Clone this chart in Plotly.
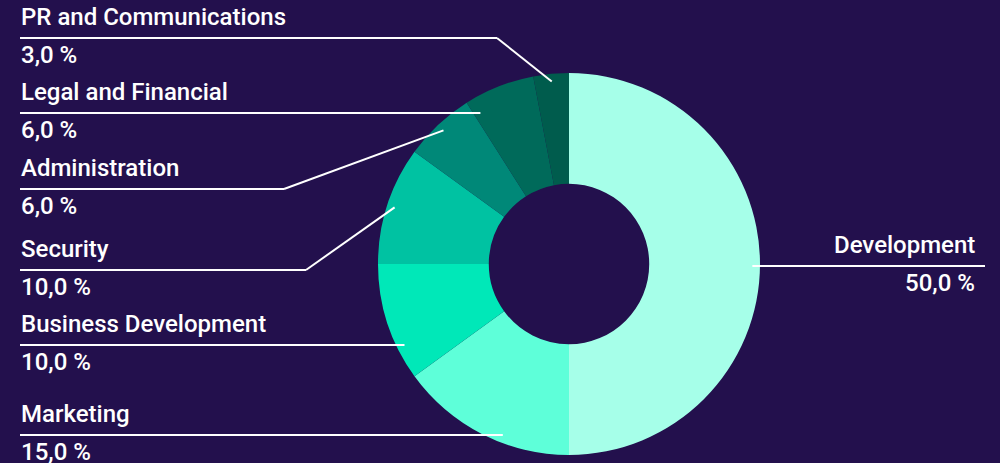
import math
import plotly.graph_objects as go

# ---- data ----
categories = ["Development", "Marketing", "Business Development", "Security",
              "Administration", "Legal and Financial", "PR and Communications"]
values = [50, 15, 10, 10, 6, 6, 3]
colors = ["#a6ffe9", "#5effd9", "#00e8b8", "#00c2a2", "#008878", "#006a5a", "#005c4d"]

# ---- layout (pixels) ----
W, H = 1000, 463
BG = "#23104d"
CX, CY, R = 569, 264, 191
HOLE = 0.42
ANCHOR_R = 0.96 * R
label_line_y = [266, 435, 345, 270, 189, 113, 38]
label_bend_x = [None, None, None, 306, 284, None, 497]
LEFT_X, RIGHT_X = 20, 985
FONT = "Roboto"
FS = 24


def px(x):
    return x / W


def py(y):
    return 1 - y / H


fig = go.Figure(go.Pie(
    labels=categories, values=values, sort=False, direction="clockwise",
    rotation=0, hole=HOLE, textinfo="none", showlegend=False,
    marker=dict(colors=colors, line=dict(width=0)),
    domain=dict(x=[px(CX - R), px(CX + R)], y=[py(CY + R), py(CY - R)]),
))

total = sum(values)
shapes, annotations = [], []
start = 0.0
for name, v, ly, bx in zip(categories, values, label_line_y, label_bend_x):
    span = 360.0 * v / total
    a0, a1 = start, start + span
    mid = (a0 + a1) / 2
    start = a1
    right = math.sin(math.radians(mid)) > 0
    dy = ly - CY
    if bx is None and abs(dy) < ANCHOR_R:
        dx = math.sqrt(ANCHOR_R ** 2 - dy ** 2) * (1 if right else -1)
        ang = math.degrees(math.atan2(dx, -dy)) % 360
        ang = min(max(ang, a0 + 2), a1 - 2)
        c = math.cos(math.radians(ang))
        t = -dy / c
        ex = CX + t * math.sin(math.radians(ang))
        pts = [(ex, ly)]
    else:
        ex = CX + ANCHOR_R * math.sin(math.radians(mid))
        ey = CY - ANCHOR_R * math.cos(math.radians(mid))
        pts = [(bx, ly), (ex, ey)]
    start_pt = (RIGHT_X if right else LEFT_X, ly)
    seq = [start_pt] + pts
    for (x0, y0), (x1, y1) in zip(seq[:-1], seq[1:]):
        shapes.append(dict(type="line", xref="paper", yref="paper",
                           x0=px(x0), y0=py(y0), x1=px(x1), y1=py(y1),
                           line=dict(color="#ffffff", width=2)))
    tx = RIGHT_X - 8 if right else LEFT_X - 1
    anchor = "right" if right else "left"
    pct = f"{100 * v / total:.1f}".replace(".", ",") + " %"
    annotations.append(dict(x=px(tx), y=py(ly - 5), xref="paper", yref="paper",
                            text=name, showarrow=False, xanchor=anchor, yanchor="bottom",
                            font=dict(family=FONT, size=FS, color="#ffffff", weight=500)))
    annotations.append(dict(x=px(tx), y=py(ly + 1), xref="paper", yref="paper",
                            text=pct, showarrow=False, xanchor=anchor, yanchor="top",
                            font=dict(family=FONT, size=FS, color="#ffffff", weight=500)))

fig.update_layout(
    width=W, height=H, margin=dict(l=0, r=0, t=0, b=0),
    paper_bgcolor=BG, plot_bgcolor=BG,
    shapes=shapes, annotations=annotations,
)
fig.write_html("out.html")
